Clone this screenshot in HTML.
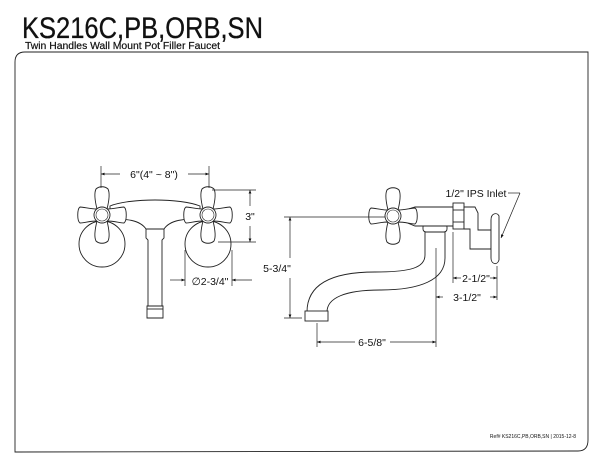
<!DOCTYPE html>
<html><head><style>
html,body{margin:0;padding:0;background:#fff;}
svg{display:block;}
text{font-family:"Liberation Sans",Arial,sans-serif;fill:#111;}
</style></head><body>
<svg width="600" height="464" viewBox="0 0 600 464" xmlns="http://www.w3.org/2000/svg">
<defs>
<marker id="a" viewBox="0 0 10 10" refX="10" refY="5" markerWidth="7" markerHeight="5" orient="auto-start-reverse"><path d="M0,1 L10,5 L0,9 z" fill="#111"/></marker>
<g id="h">
 <path d="M-5,-6 C-7,-14 -8,-22 -6,-26 C-3,-29 3,-29 6,-26 C8,-22 7,-14 5,-6 C12,-6 18,-8 22,-8 C25,-6 25,6 22,8 C18,8 12,6 5,6 C7,14 8,22 6,26 C3,29 -3,29 -6,26 C-8,22 -7,14 -5,6 C-12,6 -18,8 -22,8 C-25,6 -25,-6 -22,-8 C-18,-8 -12,-6 -5,-6 z" fill="#fff" stroke="#222" stroke-width="0.9"/>
 <circle r="8" fill="#fff" stroke="#222" stroke-width="0.9"/>
 <circle r="6" fill="none" stroke="#222" stroke-width="0.6"/>
</g>
</defs>
<g fill="none" stroke="#222" stroke-width="0.9">
<path d="M15,452 L15,62 Q15,52 25,52 L588,52 L588,440 Q588,451 578,451 Z"/>
<circle cx="102" cy="244" r="23" fill="#fff"/>
<circle cx="208" cy="244" r="23" fill="#fff"/>
<path d="M110,206 C130,198 180,198 200,206 L200,220 C185,218 170,220 164,229 L146,229 C140,220 125,218 110,220 Z" fill="#fff"/>
<path d="M146,229 L164,229 L164,238 L162,240 L162,306 L148,306 L148,240 L146,238 Z" fill="#fff"/>
<path d="M147,306 L163,306 L163,318 L147,318 Z" fill="#fff"/>
<line x1="147" y1="309" x2="163" y2="309"/>
<use href="#h" x="102" y="215"/>
<use href="#h" x="208" y="215"/>
<path d="M425,230 L445,230 L445,258 C445,280 420,290 380,290 C345,290 327,298 327,312 L307,312 C307,285 330,272 375,272 C410,272 425,268 425,255 Z" fill="#fff"/>
<rect x="305" y="311" width="23" height="10" fill="#fff"/>
<rect x="423" y="224" width="24" height="8" rx="3" fill="#fff"/>
<path d="M405,210 L415,207 L455,207 L455,226 L415,226 L405,222 Z" fill="#fff"/>
<path d="M398,210 L406,210 L406,222 L398,222" fill="#fff"/>
<rect x="453" y="203" width="11" height="26" fill="#fff"/>
<line x1="453" y1="210" x2="464" y2="210"/><line x1="453" y1="222" x2="464" y2="222"/>
<path d="M464,207 L475,207 L478,213 L478,230 L491,230 L491,249 L470,249 L470,229 L464,229 Z" fill="#fff"/>
<path d="M491,220 C491,213 497,212 499,216 L499,260 C497,266 491,264 491,258 Z" fill="#fff"/>
<use href="#h" x="393" y="216"/>
</g>
<g stroke="#222" stroke-width="0.7" fill="none">
<line x1="101" y1="166" x2="101" y2="188"/><line x1="209" y1="166" x2="209" y2="188"/>
<line x1="101" y1="174" x2="120" y2="174" marker-start="url(#a)"/><line x1="188" y1="174" x2="209" y2="174" marker-end="url(#a)"/>
<line x1="212" y1="190" x2="256" y2="190"/><line x1="218" y1="242" x2="256" y2="242"/>
<line x1="250" y1="190" x2="250" y2="206" marker-start="url(#a)"/><line x1="250" y1="226" x2="250" y2="242" marker-end="url(#a)"/>
<line x1="185" y1="250" x2="185" y2="286"/><line x1="232" y1="250" x2="232" y2="286"/>
<line x1="170" y1="280" x2="185" y2="280" marker-end="url(#a)"/><line x1="252" y1="280" x2="232" y2="280" marker-end="url(#a)"/>
<line x1="284" y1="217" x2="385" y2="217"/><line x1="284" y1="318" x2="302" y2="318"/>
<line x1="290" y1="217" x2="290" y2="258" marker-start="url(#a)"/><line x1="290" y1="278" x2="290" y2="318" marker-end="url(#a)"/>
<line x1="317" y1="323" x2="317" y2="347"/><line x1="436" y1="248" x2="436" y2="347"/>
<line x1="317" y1="342" x2="355" y2="342" marker-start="url(#a)"/><line x1="390" y1="342" x2="436" y2="342" marker-end="url(#a)"/>
<line x1="453" y1="232" x2="453" y2="283"/><line x1="497" y1="266" x2="497" y2="300"/>
<line x1="453" y1="278" x2="461" y2="278" marker-start="url(#a)"/><line x1="490" y1="278" x2="497" y2="278" marker-end="url(#a)"/>
<line x1="436" y1="297" x2="443" y2="297" marker-start="url(#a)"/><line x1="490" y1="297" x2="497" y2="297" marker-end="url(#a)"/>
<line x1="508" y1="193" x2="520" y2="193"/><line x1="520" y1="193" x2="501" y2="238" marker-end="url(#a)"/>
</g>
<text x="22" y="38" font-size="30" textLength="241" lengthAdjust="spacingAndGlyphs" stroke="#111" stroke-width="0.3">KS216C,PB,ORB,SN</text>
<text x="25" y="49" font-size="10" textLength="195" lengthAdjust="spacingAndGlyphs" stroke="#111" stroke-width="0.2">Twin Handles Wall Mount Pot Filler Faucet</text>
<text x="154" y="178" font-size="10.5" text-anchor="middle">6"(4" ~ 8")</text>
<text x="250" y="220" font-size="10.5" text-anchor="middle">3"</text>
<text x="210" y="285" font-size="10.5" text-anchor="middle">∅2-3/4"</text>
<text x="277" y="272" font-size="10.5" text-anchor="middle">5-3/4"</text>
<text x="372" y="346" font-size="10.5" text-anchor="middle">6-5/8"</text>
<text x="476" y="282" font-size="10.5" text-anchor="middle">2-1/2"</text>
<text x="467" y="301" font-size="10.5" text-anchor="middle">3-1/2"</text>
<text x="476" y="197" font-size="10.5" text-anchor="middle">1/2" IPS Inlet</text>
<text x="576" y="438" font-size="5" text-anchor="end">Ref# KS216C,PB,ORB,SN | 2015-12-8</text>
</svg>
</body></html>
